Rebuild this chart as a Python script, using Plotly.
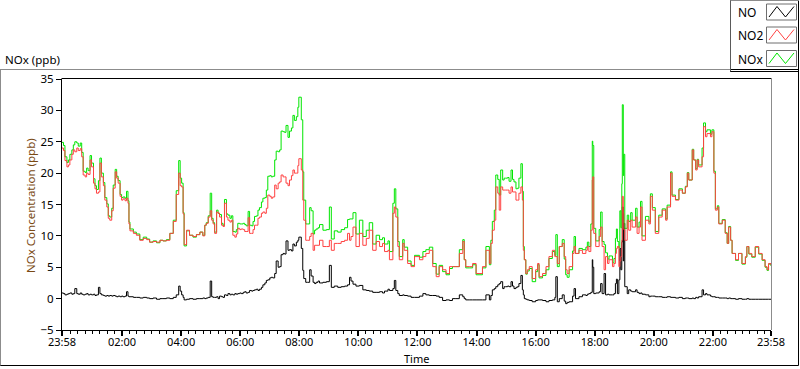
import plotly.graph_objects as go

# ---- data (minutes after 23:58, values in ppb) ----
minutes = [0, 3, 6, 10, 13, 16, 20, 23, 26, 30, 33, 37, 40, 43, 47, 50, 53, 57, 60, 64,
           67, 70, 74, 77, 80, 84, 87, 91, 94, 97, 101, 104, 108, 111, 114, 118, 121, 124, 128, 131,
           134, 136, 138, 145, 151, 158, 165, 172, 178, 185, 192, 199, 205, 212, 219, 226, 232, 237, 240, 243,
           246, 248, 253, 259, 266, 273, 280, 286, 290, 293, 297, 301, 304, 307, 310, 314, 317, 320, 324, 327,
           330, 334, 337, 341, 344, 347, 351, 354, 357, 361, 364, 368, 371, 374, 378, 381, 385, 388, 391, 395,
           398, 401, 405, 408, 412, 415, 418, 422, 425, 428, 432, 435, 439, 442, 445, 449, 452, 455, 459, 462,
           466, 469, 472, 476, 479, 481, 486, 489, 491, 495, 499, 503, 506, 510, 513, 516, 520, 523, 530, 537,
           543, 547, 553, 560, 567, 574, 580, 584, 587, 591, 597, 604, 611, 618, 624, 631, 638, 645, 651, 655,
           662, 665, 672, 675, 678, 682, 685, 692, 695, 702, 709, 716, 726, 733, 739, 746, 753, 760, 766, 773,
           780, 787, 793, 800, 807, 814, 817, 820, 827, 834, 841, 847, 854, 861, 868, 871, 874, 878, 881, 885,
           888, 891, 895, 898, 901, 905, 908, 912, 915, 918, 922, 925, 928, 932, 935, 937, 939, 942, 945, 949,
           955, 962, 966, 969, 976, 983, 989, 996, 1001, 1003, 1006, 1010, 1016, 1020, 1023, 1026, 1030, 1037, 1040, 1043,
           1050, 1057, 1064, 1067, 1070, 1074, 1077, 1078, 1080, 1084, 1091, 1094, 1097, 1101, 1104, 1108, 1111, 1118, 1121, 1124,
           1126, 1128, 1131, 1133, 1135, 1137, 1138, 1140, 1141, 1143, 1148, 1151, 1155, 1158, 1165, 1168, 1172, 1175, 1178, 1185,
           1192, 1195, 1199, 1205, 1212, 1219, 1226, 1229, 1236, 1239, 1246, 1253, 1260, 1266, 1270, 1273, 1280, 1283, 1287, 1290,
           1293, 1300, 1303, 1307, 1310, 1317, 1320, 1324, 1327, 1331, 1334, 1341, 1347, 1351, 1354, 1358, 1361, 1368, 1374, 1381,
           1388, 1391, 1395, 1401, 1408, 1415, 1422, 1428, 1432, 1435, 1440]

no2 = [24.0, 23.6, 22.0, 21.0, 21.3, 22.1, 23.0, 23.7, 23.4, 24.0, 23.6, 23.9, 22.6, 19.7, 19.4, 20.0, 19.8, 22.1, 21.0, 18.4,
       17.5, 16.8, 17.0, 21.6, 19.4, 18.0, 15.7, 14.6, 12.8, 12.5, 14.0, 17.6, 20.2, 19.2, 18.4, 16.3, 15.7, 15.9, 15.6, 16.0,
       15.2, 11.9, 10.8, 10.4, 10.1, 9.3, 9.6, 9.4, 9.0, 9.1, 9.0, 9.3, 9.2, 9.3, 10.4, 12.3, 16.6, 20.0, 18.0, 17.8,
       13.5, 8.6, 10.9, 10.1, 9.9, 10.2, 10.6, 10.0, 11.7, 12.0, 13.0, 14.0, 12.5, 11.9, 10.4, 13.8, 13.6, 13.0, 11.7, 11.5,
       15.2, 13.0, 12.5, 12.2, 12.5, 10.1, 9.8, 10.3, 11.2, 11.0, 11.1, 11.0, 10.7, 10.7, 12.9, 10.4, 10.4, 11.0, 11.7, 11.7,
       12.8, 13.0, 13.6, 13.8, 13.6, 14.4, 16.5, 16.3, 16.0, 16.2, 18.1, 17.5, 18.4, 18.6, 19.7, 19.4, 19.4, 18.4, 18.0, 18.9,
       19.6, 20.5, 20.0, 20.0, 21.2, 22.3, 20.5, 15.7, 12.5, 9.3, 9.3, 9.9, 10.4, 7.7, 8.5, 8.5, 8.5, 9.3, 8.3, 8.3,
       9.3, 7.7, 8.8, 8.8, 9.1, 9.3, 10.4, 9.3, 9.9, 11.4, 8.3, 10.4, 8.5, 9.6, 10.9, 7.7, 9.1, 8.3, 8.8, 7.5,
       7.7, 6.2, 13.6, 14.6, 13.0, 8.3, 6.2, 8.8, 7.7, 5.6, 5.1, 6.7, 6.2, 6.7, 7.2, 7.7, 5.1, 3.5, 5.1, 4.6,
       4.0, 5.1, 5.1, 5.1, 7.2, 9.1, 6.2, 5.1, 5.1, 5.6, 4.0, 4.0, 5.1, 7.7, 5.6, 8.8, 10.9, 12.5, 17.8, 16.8,
       14.1, 17.8, 17.3, 17.3, 17.3, 17.3, 16.8, 17.8, 17.0, 17.0, 15.7, 15.7, 16.8, 17.8, 15.7, 7.7, 6.2, 4.0, 4.6, 5.1,
       3.2, 4.6, 5.6, 3.5, 4.0, 5.1, 6.7, 7.7, 6.7, 6.7, 5.6, 8.3, 8.8, 6.7, 4.6, 4.0, 5.1, 7.2, 8.3, 7.2,
       7.7, 7.2, 7.7, 8.3, 7.5, 10.9, 18.9, 19.4, 10.4, 8.3, 9.9, 11.4, 8.3, 4.6, 6.7, 5.6, 6.2, 5.1, 5.6, 7.2,
       8.0, 8.3, 5.1, 6.0, 6.7, 9.3, 16.3, 13.6, 11.0, 9.3, 12.5, 10.9, 12.5, 11.4, 13.0, 10.4, 11.4, 14.6, 9.3, 12.5,
       11.9, 16.3, 14.1, 10.4, 13.0, 14.1, 12.5, 14.6, 20.0, 16.3, 15.7, 17.3, 16.8, 17.8, 20.0, 18.9, 23.7, 22.1, 20.5, 22.1,
       21.0, 22.6, 27.4, 25.8, 26.3, 25.8, 26.6, 20.0, 14.1, 14.6, 11.9, 12.5, 10.4, 8.8, 11.4, 9.3, 7.2, 6.2, 7.2, 5.6,
       6.7, 8.3, 7.2, 6.7, 8.3, 7.2, 6.2, 5.1, 4.6, 5.6, 5.3]

no = [0.9, 0.8, 0.6, 0.7, 0.8, 0.9, 0.7, 0.8, 1.6, 0.8, 0.7, 0.9, 0.7, 0.6, 0.7, 0.8, 0.6, 0.7, 0.6, 0.7,
      0.5, 0.6, 1.8, 0.8, 0.6, 0.5, 0.4, 0.5, 0.4, 0.5, 0.4, 0.5, 0.4, 0.3, 0.4, 0.3, 0.4, 0.3, 0.4, 1.1,
      0.4, 0.3, 0.3, 0.2, 0.2, 0.1, 0.2, 0.1, 0.0, 0.1, -0.1, 0.0, 0.0, 0.1, 0.0, 0.2, 0.6, 2.0, 1.2, 0.6,
      0.2, -0.2, -0.1, 0.0, -0.1, 0.0, 0.0, 0.1, 0.0, 0.1, 0.2, 2.8, 0.3, 0.2, 0.2, 0.3, 0.0, 0.4, 0.3, 0.2,
      0.6, 0.5, 0.8, 0.6, 0.7, 0.6, 0.8, 0.7, 0.8, 0.9, 0.8, 1.0, 1.1, 0.9, 1.0, 1.3, 1.2, 1.3, 1.4, 1.5,
      1.3, 1.5, 1.8, 2.2, 2.5, 2.9, 3.0, 3.3, 3.4, 3.3, 4.0, 6.0, 5.0, 5.1, 7.0, 7.2, 7.1, 9.2, 7.7, 7.8,
      7.6, 8.7, 8.4, 9.0, 9.3, 9.8, 8.0, 4.5, 3.2, 2.6, 2.6, 4.6, 3.6, 2.6, 2.4, 2.6, 2.8, 2.5, 2.6, 2.7,
      5.3, 1.8, 2.0, 1.8, 1.9, 2.0, 2.2, 3.4, 2.8, 2.3, 2.0, 2.1, 1.4, 1.3, 1.2, 1.0, 1.0, 1.1, 0.9, 1.2,
      1.5, 1.3, 1.6, 2.9, 1.3, 0.8, 0.5, 0.6, 0.5, 0.4, 0.2, 0.2, 0.4, 0.8, 0.6, 0.5, 0.5, 0.4, 0.2, -0.3,
      -0.2, -0.3, 0.0, 0.0, 0.6, 0.3, 0.0, -0.2, -0.2, -0.2, -0.2, -0.2, -0.2, 0.6, -0.2, 0.5, 1.4, 1.6, 1.9, 2.2,
      2.4, 2.7, 1.6, 1.9, 1.9, 2.0, 1.9, 2.7, 2.0, 1.6, 1.8, 1.9, 2.4, 3.7, 1.4, 0.6, 0.0, -0.1, -0.2, -0.3,
      -0.5, -0.3, -0.2, -0.2, -0.3, -0.5, -0.3, -0.2, 0.2, 3.5, -0.5, 0.0, 0.6, -0.4, -0.8, -0.6, -0.5, 0.4, 1.6, 0.0,
      0.3, 0.6, 0.5, 0.7, 0.8, 1.0, 6.2, 5.0, 0.8, 0.9, 1.1, 2.4, 0.8, 4.0, 0.6, 0.7, 0.6, 0.6, 0.8, 2.4,
      3.1, 0.8, 3.0, 8.0, 4.6, 9.0, 14.6, 6.0, 12.0, 1.9, 0.8, 1.4, 1.2, 1.1, 1.4, 1.0, 0.8, 0.9, 0.7, 0.6,
      0.3, 0.4, 0.4, 0.3, 0.3, 0.2, 0.2, 0.3, 0.2, 0.2, 0.1, 0.2, 0.0, 0.1, 0.1, 0.0, 0.1, 0.0, 0.2, 0.1,
      0.3, 1.4, 0.6, 0.8, 0.6, 0.4, 0.3, 0.3, 0.2, 0.2, 0.1, 0.1, 0.1, 0.0, 0.1, 0.0, 0.0, -0.1, 0.0, -0.1,
      -0.1, 0.0, -0.1, -0.1, -0.1, -0.1, -0.1, -0.1, -0.1, -0.1, -0.1]

# NOx is the sum of NO and NO2
nox = [round(a + b, 2) for a, b in zip(no, no2)]

tick_minutes = [0, 122, 242, 362, 482, 602, 722, 842, 962, 1082, 1202, 1322, 1440]
tick_labels = ["23:58", "02:00", "04:00", "06:00", "08:00", "10:00", "12:00",
               "14:00", "16:00", "18:00", "20:00", "22:00", "23:58"]
y_ticks = [-5, 0, 5, 10, 15, 20, 25, 30, 35]
series_names = ["NO", "NO2", "NOx"]
series_colors = ["#000000", "#ff4242", "#00e600"]

FONT = "Noto Sans, DejaVu Sans, sans-serif"
W, H = 800, 369
L, R, T, B = 62, 771, 79, 330


def fx(px):
    return (px - L) / (R - L)


def fy(py):
    return (B - py) / (B - T)


fig = go.Figure()
fig.add_trace(go.Scatter(x=minutes, y=no, mode="lines", name=series_names[0], line_shape="hv",
                         line=dict(color=series_colors[0], width=1), showlegend=False))
fig.add_trace(go.Scatter(x=minutes, y=nox, mode="lines", name=series_names[2], line_shape="hv",
                         line=dict(color=series_colors[2], width=1), showlegend=False))
fig.add_trace(go.Scatter(x=minutes, y=no2, mode="lines", name=series_names[1], line_shape="hv",
                         line=dict(color=series_colors[1], width=1), showlegend=False))

shapes = []


def hline(py, x0, x1, color):
    shapes.append(dict(type="line", xref="paper", yref="paper", x0=fx(x0), x1=fx(x1),
                       y0=fy(py), y1=fy(py), line=dict(color=color, width=1)))


def vline(px, y0, y1, color):
    shapes.append(dict(type="line", xref="paper", yref="paper", x0=fx(px), x1=fx(px),
                       y0=fy(y0), y1=fy(y1), line=dict(color=color, width=1)))


# outer panel frame (drawn as a rectangle; top/left recoloured grey afterwards)
shapes.append(dict(type="rect", xref="paper", yref="paper", x0=fx(0.5), x1=fx(798.5),
                   y0=fy(365.5), y1=fy(69.5), line=dict(color="#000000", width=1)))
hline(69.5, 0, 730.5, "#8c8c8c")
vline(0.5, 69.5, 365, "#8c8c8c")
vline(798.5, 0, 70, "#000000")
# plot frame (top black, right grey)
hline(78.5, 61.5, 771.5, "#000000")
vline(771.5, 78.5, 330, "#8c8c8c")
# legend box
vline(730.5, 0, 72, "#5a5a5a")
hline(71.5, 730.5, 799, "#000000")
hline(0.5, 730.5, 799, "#8c8c8c")

annotations = []
row_y = [12.5, 35.5, 59.0]
for name, color, ry in zip(series_names, series_colors, row_y):
    top, bot = ry - 8.5, ry + 7.5
    shapes.append(dict(type="rect", xref="paper", yref="paper", x0=fx(766.5), x1=fx(796.5),
                       y0=fy(bot), y1=fy(top), line=dict(color="#6e6e6e", width=1),
                       fillcolor="white"))
    pts = [(769, bot - 3), (777, top + 2.5), (785.5, bot - 3), (794, top + 2.5)]
    path = "M " + " L ".join(f"{fx(a):.5f},{fy(b):.5f}" for a, b in pts)
    shapes.append(dict(type="path", xref="paper", yref="paper", path=path,
                       line=dict(color=color, width=1)))
    annotations.append(dict(text=name, x=fx(736), y=fy(ry), xref="paper", yref="paper",
                            xanchor="left", yanchor="middle", showarrow=False,
                            font=dict(family=FONT, size=12, color="#000000")))

annotations.append(dict(text="NOx (ppb)", x=fx(3), y=fy(59), xref="paper", yref="paper",
                        xanchor="left", yanchor="middle", showarrow=False,
                        font=dict(family=FONT, size=11.5, color="#000000")))
annotations.append(dict(text="Time", x=fx(416), y=fy(358.5), xref="paper", yref="paper",
                        xanchor="center", yanchor="middle", showarrow=False,
                        font=dict(family=FONT, size=11, color="#000000")))
annotations.append(dict(text="NOx Concentration (ppb)", x=fx(30), y=fy(206), xref="paper",
                        yref="paper", xanchor="center", yanchor="middle", textangle=-90,
                        showarrow=False, font=dict(family=FONT, size=11.5, color="#7a4a14")))

fig.update_layout(
    width=W, height=H,
    margin=dict(l=L, r=W - R, t=T, b=H - B, pad=0),
    paper_bgcolor="white", plot_bgcolor="white",
    font=dict(family=FONT, size=11, color="#000000"),
    shapes=shapes, annotations=annotations,
    showlegend=False,
)
fig.update_xaxes(
    range=[0, 1440], tickmode="array", tickvals=tick_minutes, ticktext=tick_labels,
    showgrid=False, zeroline=False, showline=True, linecolor="#000000", linewidth=1,
    ticks="outside", ticklen=5, tickwidth=2, tickcolor="#000000", ticklabelstandoff=-3,
    tickfont=dict(family=FONT, size=11, color="#000000"),
    minor=dict(tick0=2, dtick=15, ticks="outside", ticklen=3, tickwidth=1,
               tickcolor="#000000", showgrid=False),
)
fig.update_yaxes(
    range=[-5, 35], tickmode="array", tickvals=y_ticks,
    showgrid=False, zeroline=False, showline=True, linecolor="#000000", linewidth=1,
    ticks="outside", ticklen=5, tickwidth=1, tickcolor="#000000",
    tickfont=dict(family=FONT, size=11.5, color="#000000"),
)

fig.write_html("out.html", config={"displayModeBar": False},
               post_script="document.body.style.margin='0';")
